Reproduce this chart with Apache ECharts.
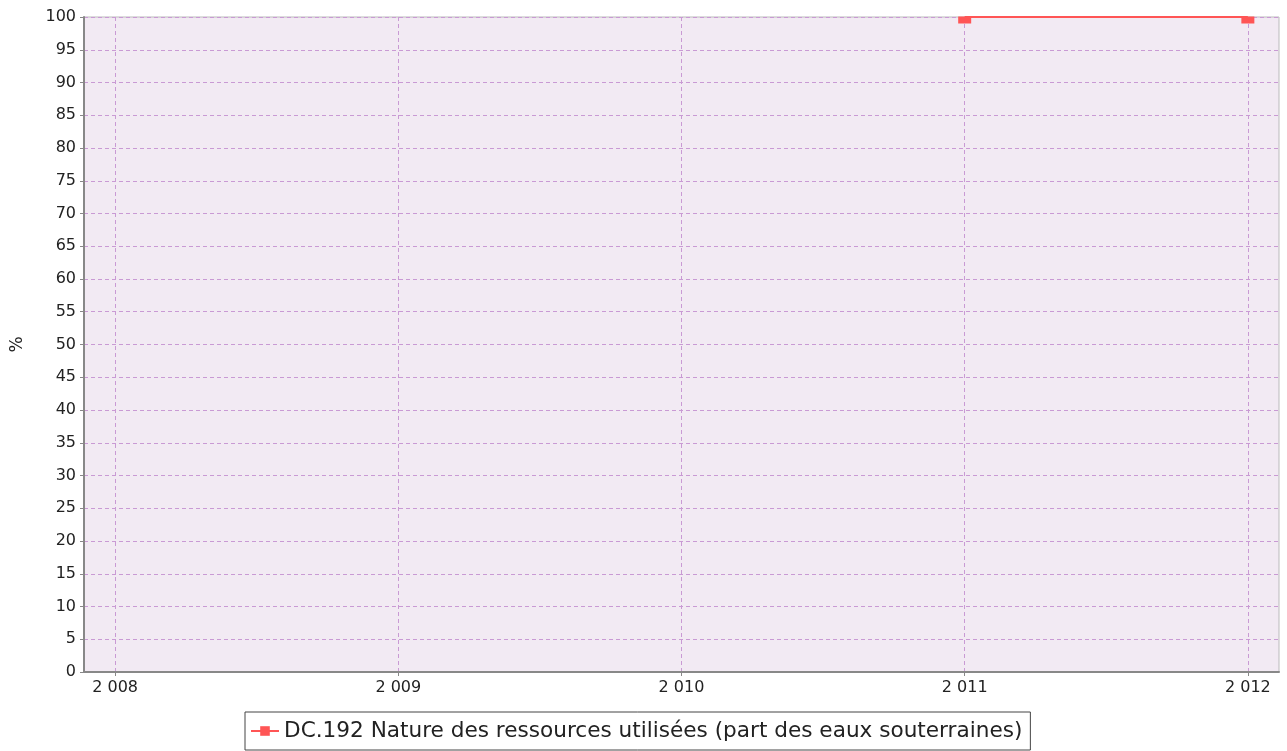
<!DOCTYPE html>
<html><head><meta charset="utf-8">
<script src="https://cdn.jsdelivr.net/npm/echarts@6/dist/echarts.min.js"></script>
<style>html,body{margin:0;padding:0;background:#fff}#c{width:1287px;height:751px}</style>
</head><body><div id="c"></div>
<script>
const years = [2011, 2012];
const values = [100, 100];
const xTicks = [2008, 2009, 2010, 2011, 2012];
const seriesName = 'DC.192 Nature des ressources utilisées (part des eaux souterraines)';
const yName = '%';

const fmt = v => { const s = String(Math.round(v)); return s.length > 3 ? s.slice(0, s.length - 3) + ' ' + s.slice(-3) : s; };
const chart = echarts.init(document.getElementById('c'));
chart.setOption({
  animation: false,
  textStyle: { fontFamily: 'DejaVu Sans' },
  grid: { left: 84, right: 8, top: 17, bottom: 79, show: true, backgroundColor: '#f2eaf3', borderColor: '#bbbbbb', borderWidth: 1 },
  xAxis: {
    type: 'value', min: 2007.89, max: 2012.11,
    axisLine: { show: true, onZero: false, lineStyle: { color: '#888', width: 2 } },
    axisTick: { show: true, length: 4, customValues: xTicks, lineStyle: { color: '#888' } },
    axisLabel: { customValues: xTicks, formatter: fmt, color: '#222', fontSize: 16, margin: 8 },
    splitLine: { show: true, lineStyle: { color: '#c99ad4', type: [4, 3], width: 1 } }
  },
  yAxis: {
    type: 'value', min: 0, max: 100, interval: 5,
    name: yName, nameLocation: 'middle', nameRotate: 90, nameGap: 58,
    nameTextStyle: { color: '#222', fontSize: 17 },
    axisLine: { show: true, lineStyle: { color: '#888', width: 2 } },
    axisTick: { show: true, length: 4, lineStyle: { color: '#888' } },
    axisLabel: { color: '#222', fontSize: 16, margin: 8 },
    splitLine: { show: true, lineStyle: { color: '#c99ad4', type: [4, 3], width: 1 } }
  },
  legend: {
    bottom: 1, left: 245, padding: [8, 8, 8, 5],
    borderColor: '#444', borderWidth: 1, backgroundColor: '#fff',
    itemWidth: 28, itemHeight: 12, itemGap: 5,
    textStyle: { fontSize: 21.6, color: '#222' },
    data: [seriesName]
  },
  series: [{
    name: seriesName, type: 'line',
    data: years.map((y, i) => [y, values[i]]),
    color: '#ff5555',
    lineStyle: { width: 2, color: '#ff5555' },
    symbol: 'rect', symbolSize: [13, 7], symbolOffset: [0, 3],
    itemStyle: { color: '#ff5555' },
    clip: false
  }]
});
</script></body></html>
